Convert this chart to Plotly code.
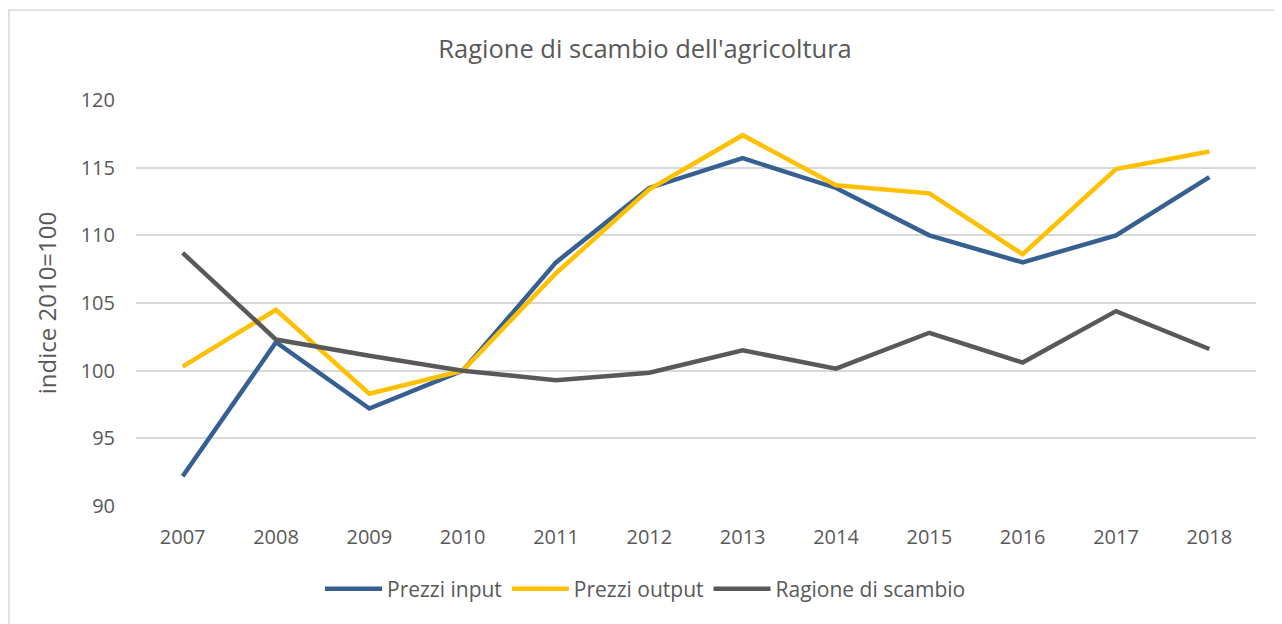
import plotly.graph_objects as go

years = ["2007", "2008", "2009", "2010", "2011", "2012", "2013", "2014", "2015", "2016", "2017", "2018"]
prezzi_input = [92.2, 102.1, 97.2, 100.0, 108.0, 113.5, 115.7, 113.5, 110.0, 108.0, 110.0, 114.3]
prezzi_output = [100.3, 104.5, 98.3, 100.0, 107.2, 113.4, 117.4, 113.7, 113.1, 108.6, 114.9, 116.2]
ragione = [108.7, 102.3, 101.1, 100.0, 99.3, 99.85, 101.5, 100.15, 102.8, 100.6, 104.4, 101.6]

series = [
    ("Prezzi input", prezzi_input, "#376092"),
    ("Prezzi output", prezzi_output, "#FFC000"),
    ("Ragione di scambio", ragione, "#595959"),
]

fig = go.Figure()
for name, vals, col in series:
    fig.add_trace(go.Scatter(x=years, y=vals, name=name, mode="lines",
                             line=dict(color=col, width=4.5)))

OFF = 8  # page body margin
W, H = 1282 - OFF, 624 - OFF
L, T = 136 - OFF, 100 - OFF
R = W - (1256 - OFF)
B = H - (506 - OFF)
pw = W - L - R
ph = H - T - B

FONT = "Open Sans, Liberation Sans, sans-serif"
GREY = "#595959"

fig.update_layout(
    width=W, height=H,
    margin=dict(l=L, r=R, t=T, b=B),
    paper_bgcolor="white", plot_bgcolor="white",
    font=dict(family=FONT, color=GREY, size=20),
    title=dict(text="Ragione di scambio dell'agricoltura", x=0.5, xanchor="center",
               y=1 - (49 - OFF) / H, yanchor="middle", font=dict(size=25.5, color=GREY)),
    xaxis=dict(type="category", range=[-0.5, 11.5], showgrid=False, showline=False,
               zeroline=False, ticks="", ticklabelstandoff=17,
               tickfont=dict(size=20, color=GREY)),
    yaxis=dict(range=[90, 120], dtick=5, showgrid=True, gridcolor="#D9D9D9", gridwidth=1.5,
               zeroline=False, showline=False, ticks="", ticklabelstandoff=20,
               tickfont=dict(size=20, color=GREY),
               title=dict(text="indice 2010=100", font=dict(size=24, color=GREY), standoff=17)),
    legend=dict(orientation="h", x=(320 - 136) / pw, xanchor="left", y=-(589 - 506) / ph,
                yanchor="middle", font=dict(size=21, color=GREY),
                itemwidth=57, tracegroupgap=0),
    showlegend=True,
)

fig.add_shape(type="rect", xref="paper", yref="paper",
              x0=(OFF + 1 - 136) / pw, x1=(1280 - 136) / pw,
              y0=-(H + 5 - T - ph) / ph, y1=(506 - 10) / ph,
              line=dict(color="#D9D9D9", width=1.5), fillcolor="rgba(0,0,0,0)", layer="below")

fig.write_html("out.html")
